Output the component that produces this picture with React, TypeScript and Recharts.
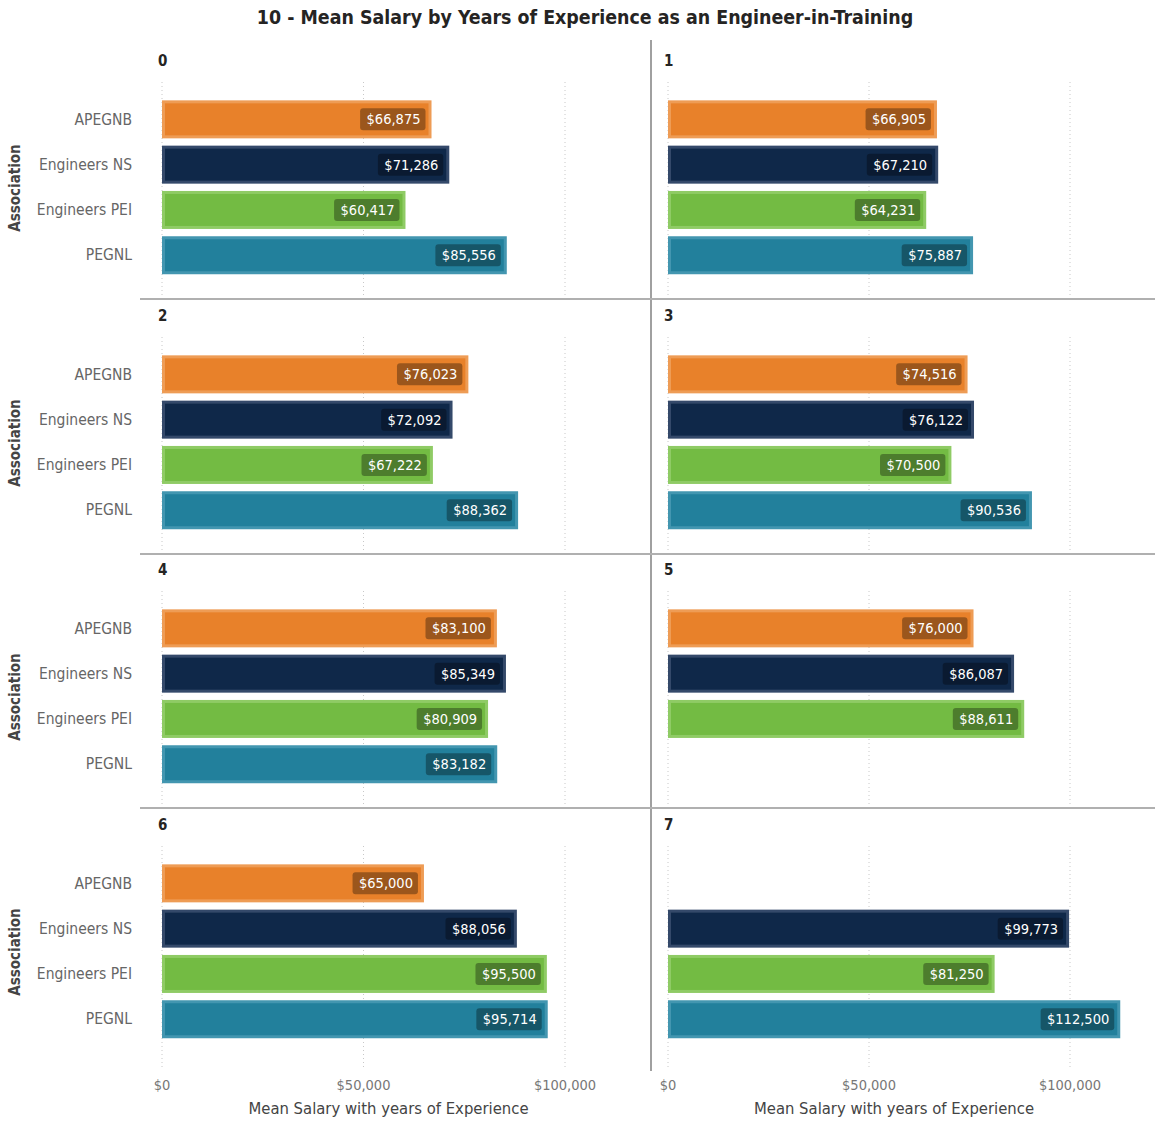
import React from 'react';
import { BarChart, Bar, XAxis, YAxis, CartesianGrid, LabelList, Cell } from 'recharts';

const title = '10 - Mean Salary by Years of Experience as an Engineer-in-Training';
const associations = ['APEGNB', 'Engineers NS', 'Engineers PEI', 'PEGNL'];
const years = ['0', '1', '2', '3', '4', '5', '6', '7'];
const apegnb = [66875, 66905, 76023, 74516, 83100, 76000, 65000, null];
const engineersNS = [71286, 67210, 72092, 76122, 85349, 86087, 88056, 99773];
const engineersPEI = [60417, 64231, 67222, 70500, 80909, 88611, 95500, 81250];
const pegnl = [85556, 75887, 88362, 90536, 83182, null, 95714, 112500];
const xTicks = [0, 50000, 100000];
const xDomain = [0, 120000];
const yAxisTitle = 'Association';
const xAxisTitle = 'Mean Salary with years of Experience';

const seriesByAssoc = [apegnb, engineersNS, engineersPEI, pegnl];
const fills = ['#E8812A', '#0F2849', '#73BB43', '#22809C'];
const borders = ['#EE9C55', '#34496A', '#8FCB65', '#4396B0'];

const FONT = '"DejaVu Sans Condensed", "Liberation Sans Narrow", "Roboto Condensed", Roboto, sans-serif';

const fmt = (v: number) => '$' + v.toLocaleString('en-US');

const BarShape = (props: any) => {
  const { x, y, width, height, payload } = props;
  if (!width || width <= 0) return null;
  const ci = associations.indexOf(payload?.association);
  const b = 3;
  return (
    <g>
      <rect x={x} y={y} width={width} height={height} fill={borders[ci]} />
      <rect x={x + b} y={y + b} width={Math.max(0, width - 2 * b)} height={Math.max(0, height - 2 * b)} fill={fills[ci]} />
    </g>
  );
};

const ValueLabel = (props: any) => {
  const { x, y, width, height, value } = props;
  if (value == null || !width) return null;
  const text = fmt(Number(value));
  const w = text.length * 8.2 + 8;
  const h = 22;
  const right = x + width - 6;
  const cy = y + height / 2;
  return (
    <g>
      <rect x={right - w} y={cy - h / 2} width={w} height={h} rx={3} ry={3} fill="rgba(0,0,0,0.33)" />
      <text x={right - 5} y={cy} textAnchor="end" dominantBaseline="central" fill="#ffffff" fontSize={14.5} fontFamily={FONT}>
        {text}
      </text>
    </g>
  );
};

const gridGen = (args: any) => {
  const xa = args?.xAxis;
  const scale = xa?.scale;
  if (scale && typeof scale === 'function') {
    return xTicks.map((t) => scale(t));
  }
  if (scale && typeof scale.map === 'function') {
    return xTicks.map((t) => scale.map(t));
  }
  const off = args?.offset;
  return xTicks.map((t) => off.left + (t / xDomain[1]) * off.width);
};

const ROW_STEP = 254.7;
const PLOT_TOP = 82;
const PLOT_H = 213;

function Panel({ yi }: { yi: number }) {
  const col = yi % 2;
  const row = Math.floor(yi / 2);
  const bottom = row === 3;
  const data = associations.map((a, i) => ({ association: a, value: seriesByAssoc[i][yi] }));
  const left = col === 0 ? 0 : 651;
  const width = col === 0 ? 650 : 504;
  const plotH = bottom ? 224 : PLOT_H;
  const axisH = bottom ? 50 : 0;
  const height = plotH + axisH;
  const top = PLOT_TOP + row * ROW_STEP;
  const padTop = 14.35;
  const padBottom = plotH - padTop - 181.2;
  return (
    <div style={{ position: 'absolute', left, top, width, height }}>
      <BarChart
        width={width}
        height={height}
        data={data}
        layout="vertical"
        margin={{ top: 0, bottom: 0, left: col === 0 ? 0 : 17, right: col === 0 ? 4.4 : 4.6 }}
        barSize={38}
      >
        <CartesianGrid
          horizontal={false}
          vertical
          stroke="#c8c8c8"
          strokeDasharray="1 3"
          verticalCoordinatesGenerator={gridGen}
        />
        <XAxis
          type="number"
          dataKey="value"
          domain={xDomain}
          ticks={xTicks}
          hide={!bottom}
          height={axisH}
          axisLine={false}
          tickLine={false}
          tickMargin={4}
          tickFormatter={fmt}
          tick={{ fontSize: 14.5, fill: '#777', fontFamily: FONT }}
          allowDataOverflow
        />
        <YAxis
          type="category"
          dataKey="association"
          hide={col !== 0}
          width={col === 0 ? 162 : 0}
          axisLine={false}
          tickLine={false}
          tickMargin={24}
          padding={{ top: padTop, bottom: padBottom }}
          tick={{ fontSize: 15.5, fill: '#666', fontFamily: FONT }}
        />
        <Bar dataKey="value" isAnimationActive={false} shape={<BarShape />}>
          {data.map((d, i) => (
            <Cell key={i} fill={fills[i]} />
          ))}
          <LabelList dataKey="value" content={<ValueLabel />} />
        </Bar>
      </BarChart>
    </div>
  );
}

export default function App() {
  return (
    <div style={{ position: 'absolute', left: 0, top: 0, width: 1155, height: 1121, background: '#fff', fontFamily: FONT, overflow: 'hidden' }}>
      <div style={{ position: 'absolute', left: 0, width: 1170, top: 6, textAlign: 'center', fontSize: 19.4, fontWeight: 'bold', color: '#252423' }}>
        {title}
      </div>
      {/* separators */}
      <div style={{ position: 'absolute', left: 650, top: 40, width: 2, height: 1031, background: '#a0a0a0' }} />
      {[0, 1, 2].map((r) => (
        <div key={r} style={{ position: 'absolute', left: 140, top: 298 + r * ROW_STEP, width: 1015, height: 2, background: '#b0b0b0' }} />
      ))}
      {years.map((y, i) => {
        const col = i % 2;
        const row = Math.floor(i / 2);
        return (
          <div key={y} style={{ position: 'absolute', left: col === 0 ? 158 : 664, top: 52 + row * ROW_STEP, fontSize: 15, fontWeight: 'bold', color: '#252423' }}>
            {y}
          </div>
        );
      })}
      {[0, 1, 2, 3].map((r) => (
        <div
          key={r}
          style={{
            position: 'absolute',
            left: 15,
            top: 188 + r * ROW_STEP,
            transform: 'translate(-50%, -50%) rotate(-90deg)',
            fontSize: 15,
            fontWeight: 'bold',
            color: '#444',
            whiteSpace: 'nowrap',
          }}
        >
          {yAxisTitle}
        </div>
      ))}
      {years.map((y, yi) => (
        <Panel key={y} yi={yi} />
      ))}
      <div style={{ position: 'absolute', left: 162, width: 453, top: 1099, textAlign: 'center', fontSize: 16.5, color: '#444' }}>{xAxisTitle}</div>
      <div style={{ position: 'absolute', left: 668, width: 452, top: 1099, textAlign: 'center', fontSize: 16.5, color: '#444' }}>{xAxisTitle}</div>
    </div>
  );
}
